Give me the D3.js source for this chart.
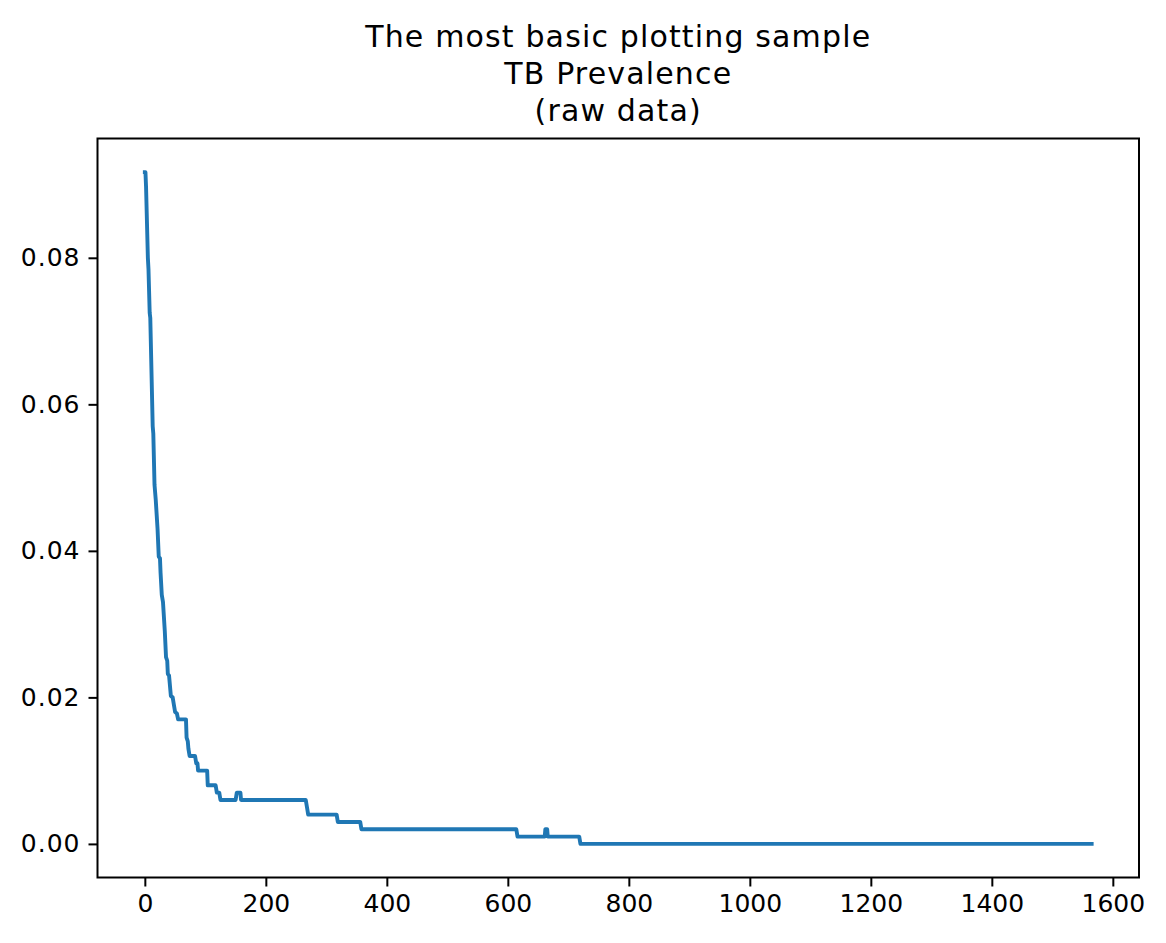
<!DOCTYPE html>
<html>
<head>
<meta charset="utf-8">
<script src="https://cdn.jsdelivr.net/npm/d3@7/dist/d3.min.js"></script>
<style>
    body { margin: 0; background: #fff; }
    text { font-family: "DejaVu Sans", sans-serif; fill: #000; }
</style>
</head>
<body>
<div id="chart"></div>
<script>
// row index of the raw data and the prevalence at that row (one pair per step)
var days = [0, 1, 2, 5, 6, 8, 9, 13, 14, 16, 18, 21, 23, 25, 26, 28, 30, 33, 35, 37, 38, 40,
    43, 46, 48, 50, 53, 55, 68, 69, 71, 72, 74, 83, 85, 87, 88, 103, 104, 117, 119, 123, 125,
    150, 152, 158, 159, 266, 268, 270, 317, 319, 356, 358, 614, 616, 661, 662, 665, 666,
    718, 720, 1565];
var prevalence = [0.0917, 0.0917, 0.0897, 0.0800, 0.0785, 0.0725, 0.0718, 0.0570, 0.0560,
    0.0490, 0.0470, 0.0430, 0.0392, 0.0390, 0.0370, 0.0340, 0.0330, 0.0290, 0.0255, 0.0250,
    0.0232, 0.0230, 0.0202, 0.0200, 0.0190, 0.0180, 0.0178, 0.0170, 0.0170, 0.0145, 0.0140,
    0.0130, 0.0120, 0.0120, 0.0110, 0.0110, 0.0100, 0.0100, 0.0080, 0.0080, 0.0070, 0.0070,
    0.0060, 0.0060, 0.0070, 0.0070, 0.0060, 0.0060, 0.0050, 0.0040, 0.0040, 0.0030, 0.0030,
    0.0020, 0.0020, 0.0010, 0.0010, 0.0020, 0.0020, 0.0010, 0.0010, 0.0000, 0.0000];

var xTicks = [0, 200, 400, 600, 800, 1000, 1200, 1400, 1600];
var yTicks = [0, 0.02, 0.04, 0.06, 0.08];
var titleLines = ["The most basic plotting sample", "TB Prevalence", "(raw data)"];

const svgDimentions = {
    width: 1166,
    height: 943
};

const margins = {
    top: 138.5,
    bottom: 65.5,
    right: 27,
    left: 97.5
};

var svg = d3.select("#chart").append("svg")
    .attr("width", svgDimentions.width)
    .attr("height", svgDimentions.height);

var points = days.map((d, i) => ({ x: d, y: prevalence[i] }));

// matplotlib style 5% margins around the data
var xMax = d3.max(days);
var yMax = d3.max(prevalence);

var scaleX = d3.scaleLinear()
    .domain([-xMax * 0.05, xMax * 1.05])
    .range([margins.left, svgDimentions.width - margins.right]);

var scaleY = d3.scaleLinear()
    .domain([-yMax * 0.05, yMax * 1.05])
    .range([svgDimentions.height - margins.bottom, margins.top]);

var axisX = d3.axisBottom(scaleX)
    .tickValues(xTicks)
    .tickFormat(d3.format("d"))
    .tickSizeOuter(0)
    .tickSize(9)
    .tickPadding(8);

var axisY = d3.axisLeft(scaleY)
    .tickValues(yTicks)
    .tickFormat(d3.format(".2f"))
    .tickSizeOuter(0)
    .tickSize(9)
    .tickPadding(9);

svg.append("g")
    .attr("class", "x axis")
    .attr("transform", "translate(0," + (svgDimentions.height - margins.bottom) + ")")
    .call(axisX);

svg.append("g")
    .attr("class", "y axis")
    .attr("transform", "translate(" + margins.left + ",0)")
    .call(axisY);

svg.selectAll(".axis .domain").remove();
svg.selectAll(".axis line").attr("stroke", "#000").attr("stroke-width", 2);
svg.selectAll(".axis text")
    .style("font-family", "DejaVu Sans")
    .style("font-size", "25px")
    .attr("fill", "#000");
// matplotlib spaces the glyphs a little wider than the browser does
svg.selectAll(".y.axis text")
    .style("letter-spacing", "1px")
    .attr("dx", 1);

var line = d3.line()
    .x(d => scaleX(d.x))
    .y(d => scaleY(d.y));

svg.append("path")
    .datum(points)
    .attr("d", line)
    .attr("fill", "none")
    .attr("stroke", "#1f77b4")
    .attr("stroke-width", 3.9)
    .attr("stroke-linecap", "square")
    .attr("stroke-linejoin", "round");

// frame round the plot area
svg.append("rect")
    .attr("x", margins.left)
    .attr("y", margins.top)
    .attr("width", svgDimentions.width - margins.right - margins.left)
    .attr("height", svgDimentions.height - margins.bottom - margins.top)
    .attr("fill", "none")
    .attr("stroke", "#000")
    .attr("stroke-width", 2);

svg.append("g")
    .selectAll("text")
    .data(titleLines)
    .enter()
    .append("text")
    .attr("x", (margins.left + svgDimentions.width - margins.right) / 2)
    .attr("y", (d, i) => 47 + i * 37)
    .attr("text-anchor", "middle")
    .style("font-size", "30px")
    .style("letter-spacing", "1.15px")
    .text(d => d);
</script>
</body>
</html>
